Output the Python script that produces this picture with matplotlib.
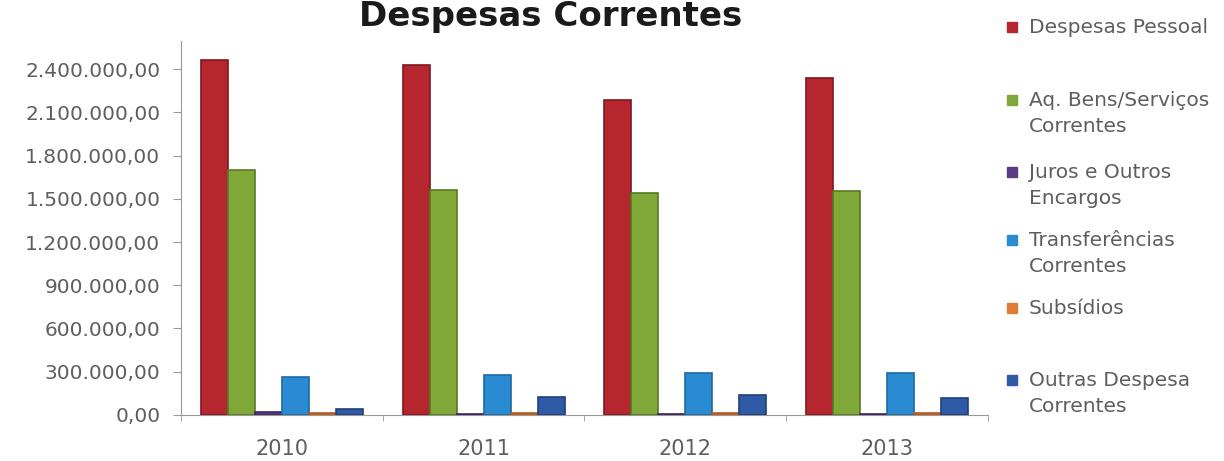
import numpy as np
import matplotlib.pyplot as plt
from matplotlib.patches import Rectangle

plt.rcParams['font.family'] = ['DejaVu Sans']

anos = ['2010', '2011', '2012', '2013']
series = ['Despesas Pessoal', 'Aq. Bens/Serviços\nCorrentes', 'Juros e Outros\nEncargos',
          'Transferências\nCorrentes', 'Subsídios', 'Outras Despesa\nCorrentes']
pessoal = [2460000, 2428000, 2185000, 2337000]
bens_servicos = [1699000, 1561000, 1540000, 1554000]
juros = [22000, 8000, 8000, 6000]
transferencias = [264000, 277000, 291000, 290000]
subsidios = [10000, 10000, 12000, 12000]
outras = [40000, 125000, 139000, 118000]
valores = [pessoal, bens_servicos, juros, transferencias, subsidios, outras]

cores = ['#b5262f', '#7fa838', '#5b3a86', '#2a8bd2', '#e07b35', '#2f5aa6']
bordas = ['#7e1820', '#587a22', '#3f2660', '#1d6aa3', '#b05a20', '#203f78']
yticks = np.arange(0, 2400001, 300000)

def fmt(v):
    s = f'{int(v):,}'.replace(',', '.')
    return s + ',00'

fig = plt.figure(figsize=(12.24, 4.61), dpi=100)
ax = fig.add_axes([0.148, 0.10, 0.659, 0.811])

x = np.arange(len(anos))
w = 0.134
for i, vals in enumerate(valores):
    ax.bar(x + (i - 2.5) * w, vals, width=w, color=cores[i],
           edgecolor=bordas[i], linewidth=1.2, zorder=3)

ax.set_xlim(-0.5, 3.5)
ax.set_ylim(0, 2595000)
ax.set_yticks(yticks)
ax.set_yticklabels([fmt(v) for v in yticks], fontsize=14.5, color='#5e5e5e')
ax.set_xticks(x)
ax.set_xticklabels(anos, fontsize=15, color='#5e5e5e')
ax.set_xticks(np.arange(-0.5, 3.6, 1), minor=True)
ax.tick_params(axis='x', which='major', length=0, pad=17)
ax.tick_params(axis='x', which='minor', length=4, color='#999999', direction='out')
ax.tick_params(axis='y', length=6, color='#999999', pad=9)
for s in ['top', 'right']:
    ax.spines[s].set_visible(False)
for s in ['left', 'bottom']:
    ax.spines[s].set_color('#999999')
    ax.spines[s].set_linewidth(0.8)

fig.text(0.450, 1 - 26 / 461, 'Despesas Correntes', ha='center', va='baseline',
         fontsize=24.5, fontweight='bold', color='#1a1a1a')

# legenda desenhada à mão, com o espaçamento irregular das entradas
leg_y = [27, 100, 172, 240, 308, 380]
for i, nome in enumerate(series):
    yf = 1 - leg_y[i] / 461
    fig.patches.append(Rectangle((1007 / 1224, yf - 5 / 461), 10 / 1224, 10 / 461,
                                 transform=fig.transFigure, color=cores[i]))
    fig.text(1029 / 1224, yf + 9 / 461, nome, ha='left', va='top', fontsize=14.5,
             color='#5e5e5e', linespacing=1.45)

fig.savefig('out.png', dpi=100)
